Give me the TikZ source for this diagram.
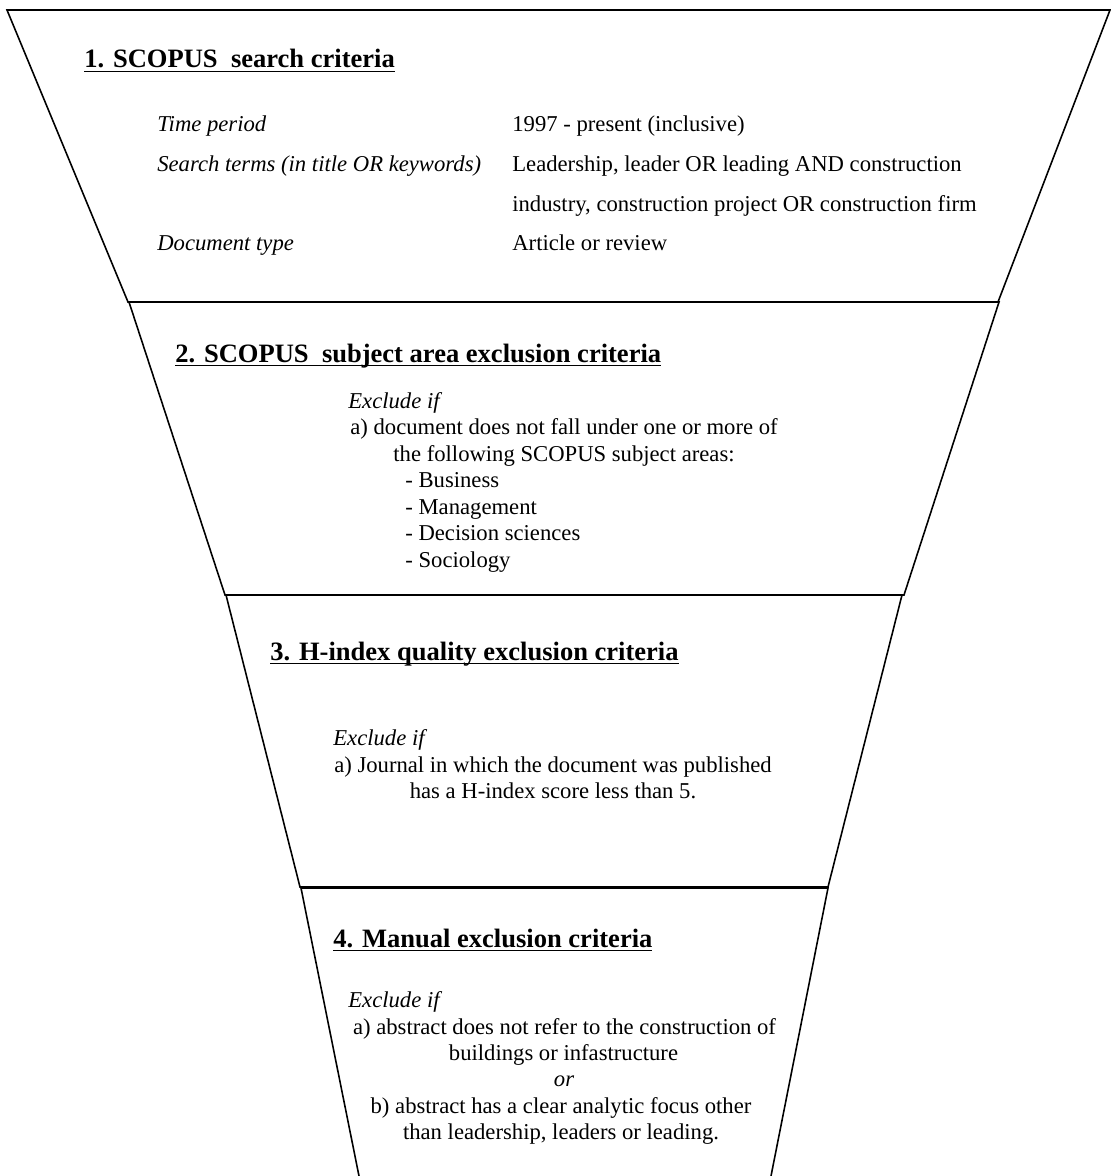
\documentclass[tikz,border=0pt]{standalone}
\usepackage{fontspec}
\setmainfont{Liberation Serif}
\newsavebox{\headbox}
\newcommand{\uln}[1]{\sbox{\headbox}{#1}\rlap{\rule[-2.4pt]{\wd\headbox}{0.8pt}}\usebox{\headbox}}
\newcommand{\bodysize}{\fontsize{12.9}{15}\selectfont}
\newcommand{\headsize}{\fontsize{15.1}{18}\selectfont\bfseries}
\tikzset{
    frame/.style={draw=black, line width=0.9pt, line join=miter},
    head/.style={anchor=base west, inner sep=0pt, font=\headsize},
    txt/.style={anchor=base west, inner sep=0pt, font=\bodysize},
    ctxt/.style={anchor=base, inner sep=0pt, font=\bodysize},
    itxt/.style={anchor=base west, inner sep=0pt, font=\bodysize\itshape}
}
\begin{document}
\begin{tikzpicture}[x=0.02cm, y=-0.02cm]
        \useasboundingbox (0,0) rectangle (1110,1176);

        \draw[frame] (7,10) -- (1110,10) -- (998,302) -- (128,302) -- cycle;
        \draw[frame] (129,302) -- (999,302) -- (904,595) -- (225,595) -- cycle;
        \draw[frame] (226,595) -- (902,595) -- (828,887) -- (300,887) -- cycle;
        \draw[frame] (359,1176) -- (301,888) -- (828,888) -- (771,1176);

        \node[head] (t1) at (84,68) {\uln{1. SCOPUS\ \ search criteria}};
        \node[head] (t2) at (175,362) {\uln{2. SCOPUS\ \ subject area exclusion criteria}};
        \node[head] (t3) at (270,660) {\uln{3. H-index quality exclusion criteria}};
        \node[head] (t4) at (333,947) {\uln{4. Manual exclusion criteria}};

        \foreach \y/\lab [count=\i] in {132/{Time period}, 171/{Search terms (in title OR keywords)}, 250/{Document type}}
        {
            \node[itxt] (crit\i) at (157,\y) {\lab};
        }
        \foreach \y/\val [count=\i] in {132/{1997 - present (inclusive)}, 171/{Leadership, leader OR leading AND construction}, 211/{industry, construction project OR construction firm}, 250/{Article or review}}
        {
            \node[txt] (val\i) at (512,\y) {\val};
        }

        \node[itxt] (ex2) at (348,408) {Exclude if};
        \node[ctxt] (s2a) at (564,434.5) {a) document does not fall under one or more of};
        \node[ctxt] (s2b) at (564,461) {the following SCOPUS subject areas:};
        \foreach \y/\area [count=\i] in {487.5/Business, 514/Management, 540.5/{Decision sciences}, 567/Sociology}
        {
            \node[txt] (area\i) at (405,\y) {- \area};
        }

        \node[itxt] (ex3) at (333,745) {Exclude if};
        \node[ctxt] (s3a) at (553,772) {a) Journal in which the document was published};
        \node[ctxt] (s3b) at (553,798) {has a H-index score less than 5.};

        \node[itxt] (ex4) at (348,1007) {Exclude if};
        \foreach \x/\y/\txt [count=\i] in {564.5/1034/{a) abstract does not refer to the construction of}, 563.5/1060/{buildings or infastructure}, 561/1113/{b) abstract has a clear analytic focus other}, 561/1139/{than leadership, leaders or leading.}}
        {
            \node[ctxt] (s4l\i) at (\x,\y) {\txt};
        }
        \node[ctxt, font=\bodysize\itshape] (s4or) at (564,1086) {or};
\end{tikzpicture}
\end{document}
